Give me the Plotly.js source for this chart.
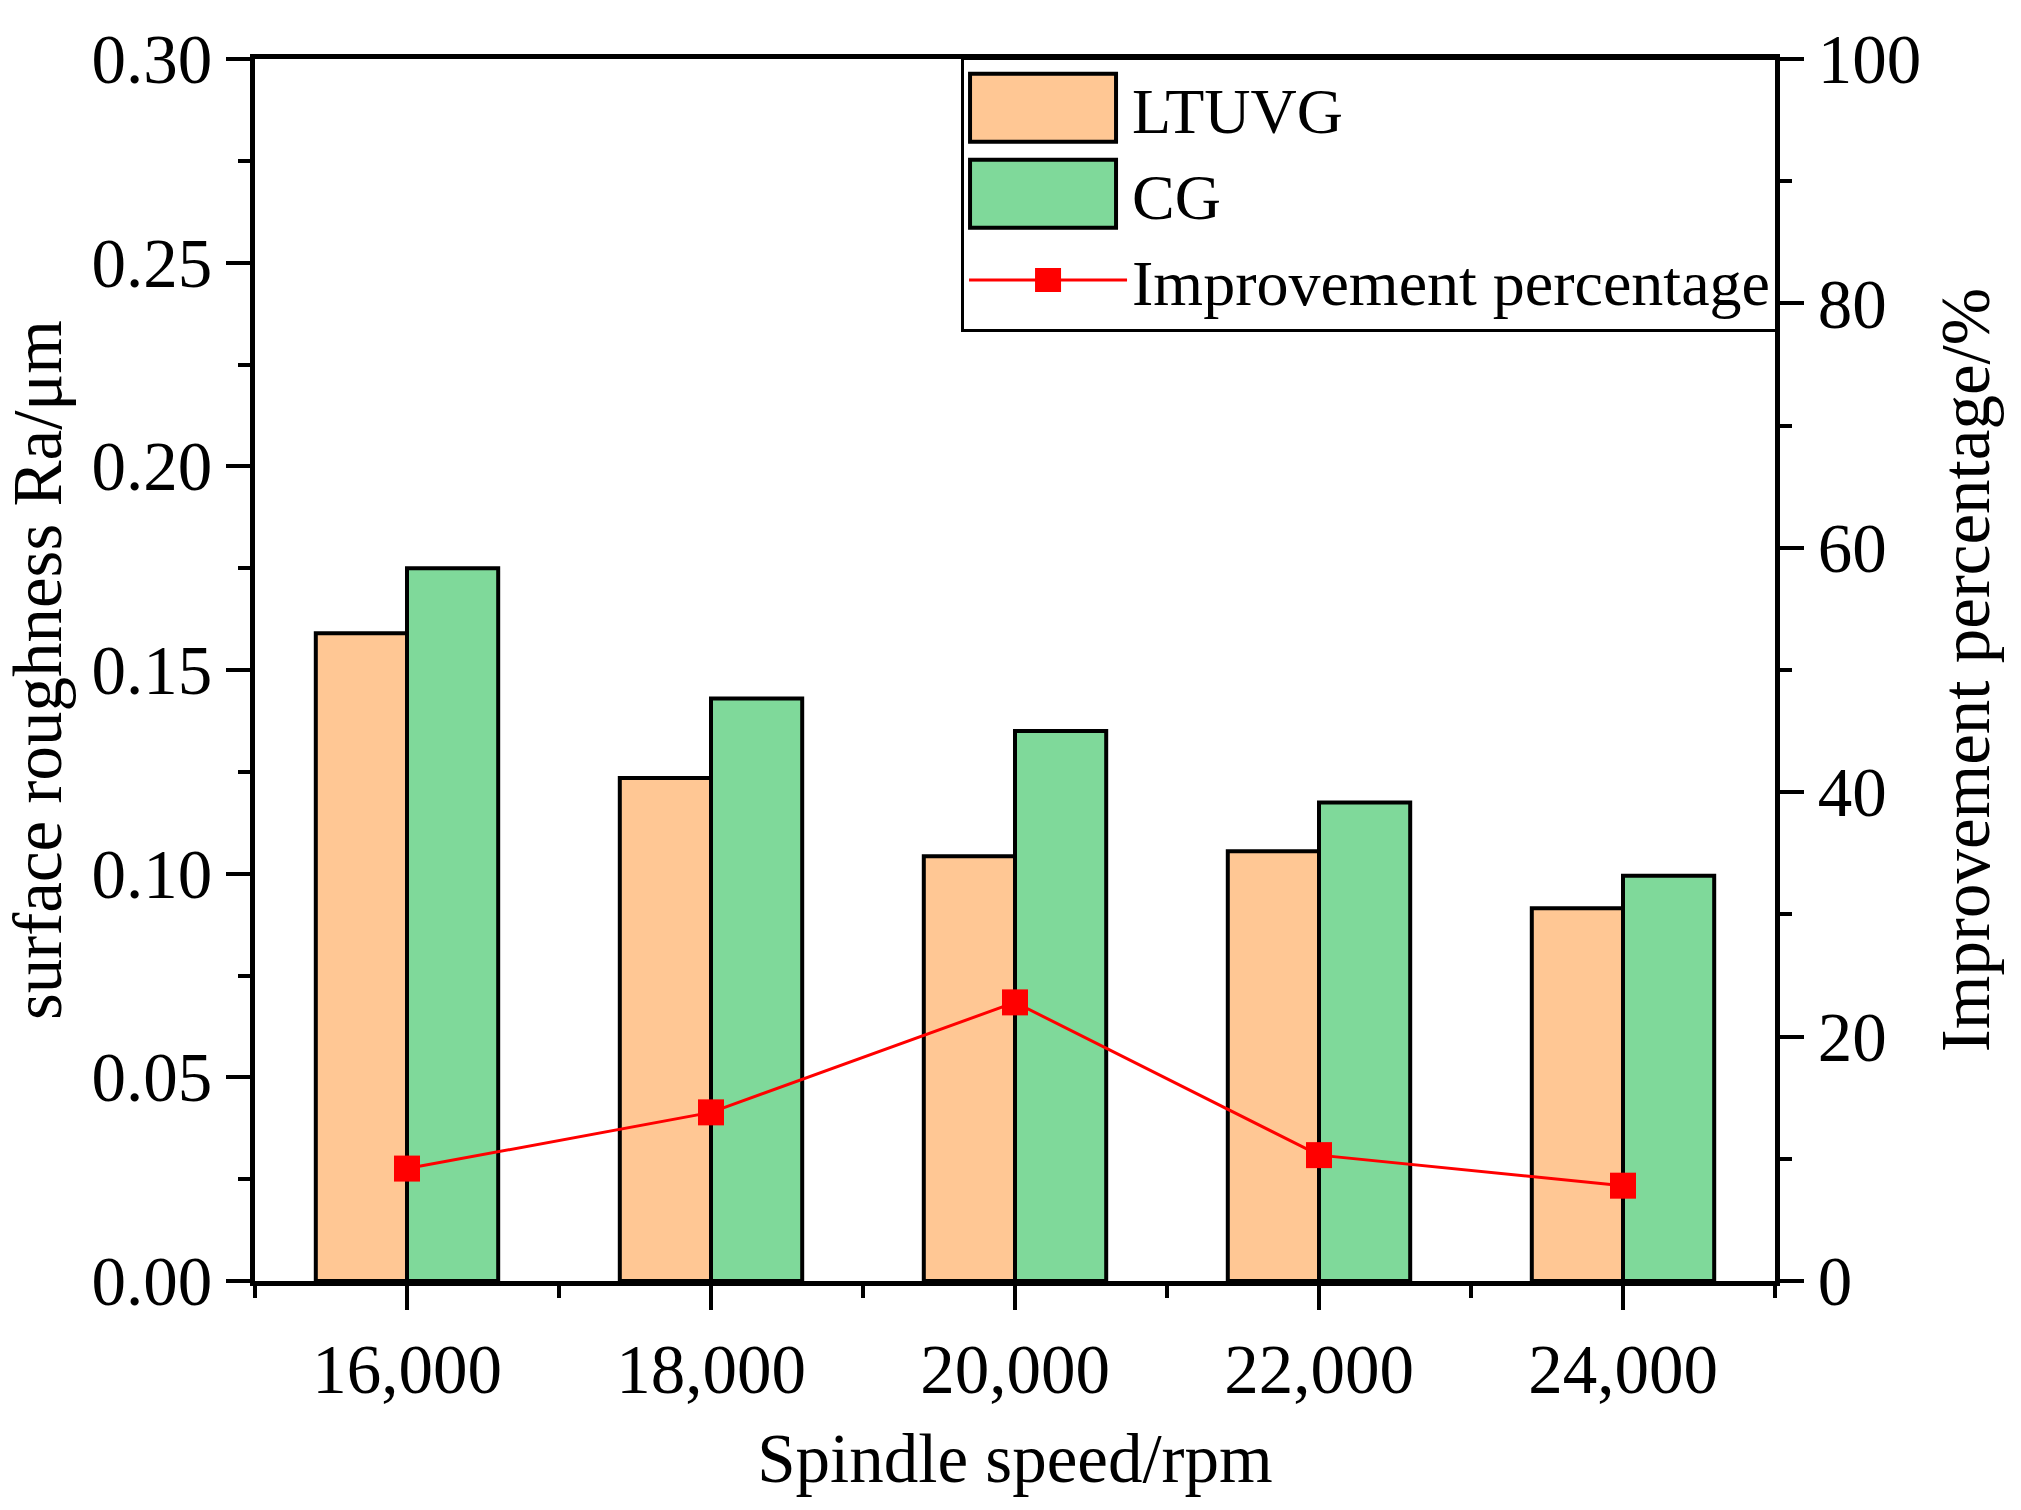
<!DOCTYPE html>
<html>
<head>
<meta charset="utf-8">
<script src="https://cdn.plot.ly/plotly-3.0.1.min.js"></script>
<style>
  body { margin: 0; background: #fff; }
  #myDiv { width: 2021px; height: 1510px; }
</style>
</head>
<body>
<div id="myDiv"></div>
<script>
  // spindle speeds (rpm)
  var speeds = [16000, 18000, 20000, 22000, 24000];
  // surface roughness Ra (um)
  var ltuvg = [0.159, 0.1235, 0.1043, 0.1055, 0.0915];
  var cg = [0.175, 0.143, 0.135, 0.1175, 0.0995];
  // improvement percentage (%)
  var improvement = [9.2, 13.8, 22.8, 10.3, 7.8];

  var fontFam = "'Liberation Serif', 'Times New Roman', serif";
  var itemW = 158;

  var data = [
    {
      x: speeds, y: ltuvg, name: "LTUVG", type: "bar",
      marker: { color: "#FFC794", line: { color: "black", width: 4 } }
    },
    {
      x: speeds, y: cg, name: "CG", type: "bar",
      marker: { color: "#7FD99A", line: { color: "black", width: 4 } }
    },
    {
      x: speeds, y: improvement, name: "Improvement percentage",
      type: "scatter", mode: "lines+markers", yaxis: "y2",
      line: { color: "red", width: 3 },
      marker: { symbol: "square", size: 26, color: "red" }
    }
  ];

  var layout = {
    width: 2021,
    height: 1510,
    margin: { l: 255, r: 246, t: 59, b: 229 },
    paper_bgcolor: "white",
    plot_bgcolor: "white",
    font: { family: fontFam, size: 69, color: "black" },
    barmode: "group",
    bargap: 0.4,
    bargroupgap: 0,
    showlegend: true,
    legend: {
      x: 0.4645, xanchor: "left",
      y: 1.002, yanchor: "top",
      bgcolor: "white",
      bordercolor: "black",
      borderwidth: 3,
      font: { family: fontFam, size: 64, color: "black" },
      itemwidth: itemW,
      tracegroupgap: 0
    },
    xaxis: {
      range: [15000, 25000],
      tick0: 16000, dtick: 2000,
      tickformat: ",d",
      showgrid: false, zeroline: false,
      showline: true, linecolor: "black", linewidth: 5, mirror: true,
      ticks: "outside", ticklen: 24, tickwidth: 4, tickcolor: "black",
      minor: { dtick: 1000, tick0: 15000, ticks: "outside", ticklen: 12, tickwidth: 4, tickcolor: "black", showgrid: false },
      title: { text: "Spindle speed/rpm", standoff: 28, font: { family: fontFam, size: 69 } }
    },
    yaxis: {
      range: [0, 0.3],
      dtick: 0.05, tickformat: ".2f",
      showgrid: false, zeroline: false,
      showline: true, linecolor: "black", linewidth: 5,
      ticks: "outside", ticklen: 24, tickwidth: 4, tickcolor: "black",
      minor: { dtick: 0.025, ticks: "outside", ticklen: 12, tickwidth: 4, tickcolor: "black", showgrid: false },
      title: { text: "surface roughness Ra/μm", standoff: 22, font: { family: fontFam, size: 69 } }
    },
    yaxis2: {
      range: [0, 100],
      dtick: 20,
      overlaying: "y", side: "right",
      showgrid: false, zeroline: false,
      showline: true, linecolor: "black", linewidth: 5,
      ticks: "outside", ticklen: 24, tickwidth: 4, tickcolor: "black",
      minor: { dtick: 10, ticks: "outside", ticklen: 12, tickwidth: 4, tickcolor: "black", showgrid: false },
      title: { text: "Improvement percentage/%", standoff: 22, font: { family: fontFam, size: 69 } }
    }
  };

  Plotly.newPlot('myDiv', data, layout, { displayModeBar: false, staticPlot: true }).then(function (gd) {
    // the reference legend uses big swatches, plotly draws small fixed ones
    var items = gd.querySelectorAll('g.legend g.traces');
    items.forEach(function (item, i) {
      if (i > 1) return; // bars only
      item.querySelectorAll('g.legendpoints path').forEach(function (p) {
        p.removeAttribute('transform');
        p.setAttribute('d', 'M6,-34H' + (itemW - 6) + 'V34H6Z');
        p.style.strokeWidth = '4px';
      });
    });
    gd.querySelectorAll('g.legend path.scatterpts').forEach(function (p) {
      p.setAttribute('d', 'M13,12H-13V-12H13Z');
    });
  });
</script>
</body>
</html>
